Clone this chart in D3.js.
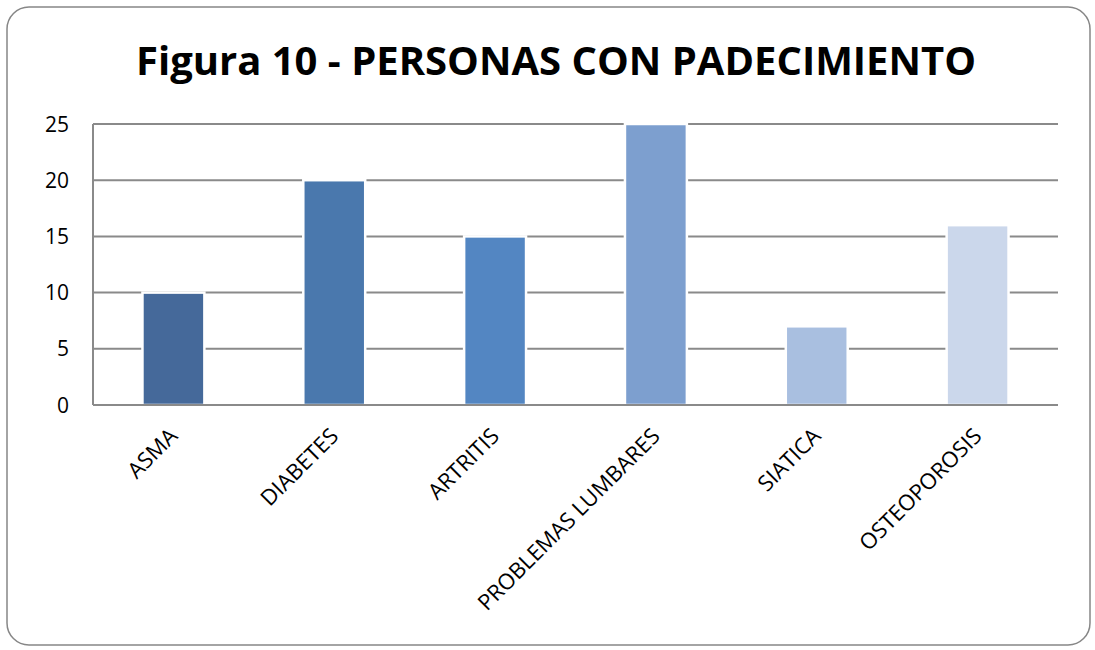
<!DOCTYPE html>
<html lang="es">
<head>
<meta charset="UTF-8">
<title>Figura 10</title>
<script src="https://d3js.org/d3.v7.min.js"></script>
<style>
  body { margin: 0; background: #fff; }
  svg { display: block; }
</style>
</head>
<body>
<svg width="1095" height="650"></svg>
<script>
    var categories = ["ASMA", "DIABETES", "ARTRITIS", "PROBLEMAS LUMBARES", "SIATICA", "OSTEOPOROSIS"];
    var values = [10, 20, 15, 25, 7, 16];
    var barColors = ["#45699a", "#4a78ad", "#5386c2", "#7d9fcf", "#a9bfe0", "#cbd7eb"];
    var yTicks = [0, 5, 10, 15, 20, 25];

    var svg = d3.select("svg");

    // outer frame
    svg.append("rect")
        .attr("x", 7).attr("y", 7)
        .attr("width", 1083).attr("height", 638)
        .attr("rx", 22).attr("ry", 22)
        .attr("fill", "#fff")
        .attr("stroke", "#878787")
        .attr("stroke-width", 1.5);

    svg.append("text")
        .attr("x", 556).attr("y", 75)
        .attr("text-anchor", "middle")
        .style("font-family", "'Open Sans', sans-serif")
        .style("font-weight", "bold")
        .style("font-size", "40px")
        .text("Figura 10 - PERSONAS CON PADECIMIENTO");

    var plotLeft = 93, plotRight = 1058, plotTop = 124, plotBottom = 405;

    var x = d3.scaleBand()
        .domain(categories)
        .range([plotLeft, plotRight])
        .paddingInner(0.615)
        .paddingOuter(0.3075);

    var y = d3.scaleLinear()
        .domain([0, 25])
        .range([plotBottom, plotTop]);

    // gridlines
    svg.append("g")
        .selectAll("line")
        .data(yTicks)
        .enter()
        .append("line")
        .attr("x1", plotLeft).attr("x2", plotRight)
        .attr("y1", d => y(d)).attr("y2", d => y(d))
        .attr("stroke", "#8a8a8a")
        .attr("stroke-width", 2);

    // y axis line
    svg.append("line")
        .attr("x1", plotLeft).attr("x2", plotLeft)
        .attr("y1", plotTop).attr("y2", plotBottom)
        .attr("stroke", "#8a8a8a")
        .attr("stroke-width", 2);

    // y labels
    svg.append("g")
        .selectAll("text")
        .data(yTicks)
        .enter()
        .append("text")
        .attr("x", 69)
        .attr("y", d => y(d))
        .attr("dy", "0.36em")
        .attr("text-anchor", "end")
        .style("font-family", "'Open Sans', sans-serif")
        .style("font-size", "21px")
        .text(d => d);

    // bars
    svg.append("g")
        .selectAll("rect")
        .data(values)
        .enter()
        .append("rect")
        .attr("x", (d, i) => x(categories[i]))
        .attr("y", d => y(d))
        .attr("width", x.bandwidth())
        .attr("height", d => plotBottom - y(d))
        .attr("fill", (d, i) => barColors[i])
        .attr("stroke", "#fff")
        .attr("stroke-width", 2.5);

    // baseline over bar bottoms
    svg.append("line")
        .attr("x1", plotLeft).attr("x2", plotRight)
        .attr("y1", plotBottom).attr("y2", plotBottom)
        .attr("stroke", "#8a8a8a")
        .attr("stroke-width", 2);

    // category labels, rotated
    svg.append("g")
        .selectAll("text")
        .data(categories)
        .enter()
        .append("text")
        .attr("transform", d => "translate(" + (x(d) + x.bandwidth() / 2) + "," + 432 + ") rotate(-45)")
        .attr("text-anchor", "end")
        .attr("dy", "0.35em")
        .style("font-family", "'Open Sans', sans-serif")
        .style("font-size", "22px")
        .text(d => d);
</script>
</body>
</html>
